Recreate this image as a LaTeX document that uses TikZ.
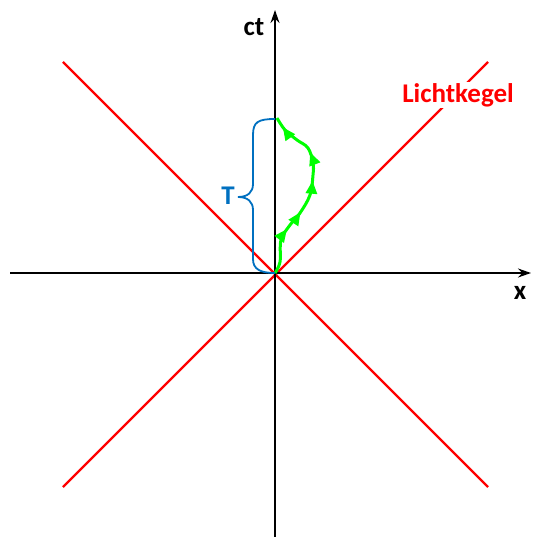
\documentclass[tikz,border=0pt]{standalone}
\usepackage{fontspec}
\setmainfont{Carlito}
\usetikzlibrary{arrows.meta,decorations.markings}
\definecolor{lblue}{RGB}{0,112,192}
\definecolor{lgreen}{RGB}{0,255,0}
\definecolor{lred}{RGB}{255,0,0}
\tikzset{
  axis/.style={line width=1.8pt,black,-{Stealth[length=13pt,width=9pt]}},
  cone/.style={line width=2.4pt,lred},
  world/.style={line width=3pt,lgreen,line join=round,
    postaction={decorate},
    decoration={markings,
      mark=at position 0.26 with {\arrow{Triangle[length=13pt,width=11pt]}},
      mark=at position 0.38 with {\arrow{Triangle[length=13pt,width=11pt]}},
      mark=at position 0.57 with {\arrow{Triangle[length=13pt,width=11pt]}},
      mark=at position 0.73 with {\arrow{Triangle[length=13pt,width=11pt]}},
      mark=at position 0.94 with {\arrow{Triangle[length=13pt,width=11pt]}}}},
  brace/.style={line width=1.8pt,lblue},
  lbl/.style={font=\fontsize{27}{32}\selectfont\bfseries,inner sep=1pt}
}
\begin{document}
\begin{tikzpicture}[x=1pt,y=-1pt]
\useasboundingbox (0,0) rectangle (536,537);
\coordinate (O) at (275,273);
\coordinate (xl) at (10,273);
\coordinate (xr) at (531,273);
\coordinate (yb) at (275,537);
\coordinate (yt) at (275,10);
\coordinate (c1) at (63,62);
\coordinate (c2) at (488,487);
\coordinate (c3) at (488,62);
\coordinate (c4) at (63,487);
\draw[cone] (c1) -- (c2);
\draw[cone] (c3) -- (c4);
\draw[axis] (xl) -- (xr);
\draw[axis] (yb) -- (yt);
\node[lbl] (ct) at (254,27) {ct};
\node[lbl] (xlab) at (520,293) {x};
\node[lbl,text=lred,fill=white] (lk) at (458,95) {Lichtkegel};
\draw[world] plot[smooth,tension=0.6] coordinates {(275,273) (280,262) (281,240) (290,225) (300,213) (310,195) (313,175) (313,163) (308,148) (297,140) (285,130) (277,118)};
\draw[brace] (275,119) .. controls (258,119) and (253,122) .. (253,135) -- (253,184) .. controls (253,192) and (248,197) .. (238,197) .. controls (248,197) and (253,202) .. (253,210) -- (253,259) .. controls (253,269) and (260,273) .. (275,273);
\node[lbl,text=lblue] (T) at (228,196) {T};
\end{tikzpicture}
\end{document}
